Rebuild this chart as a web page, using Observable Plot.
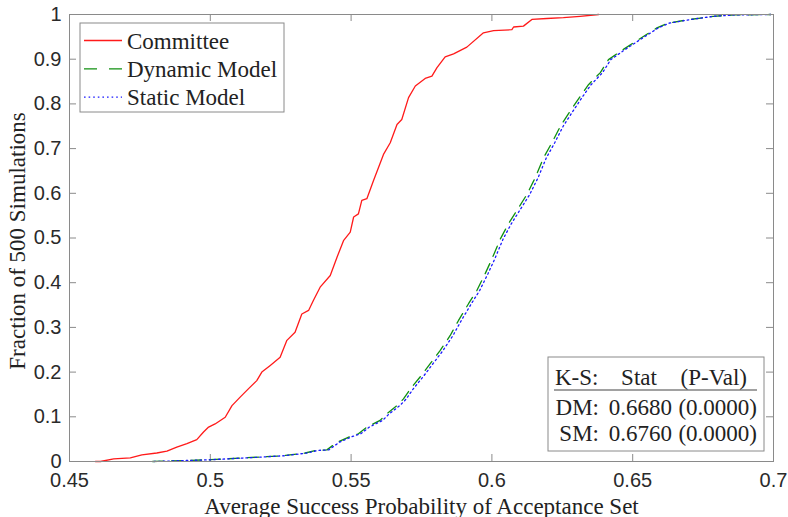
<!DOCTYPE html>
<html>
<head>
<meta charset="utf-8">
<script src="https://cdn.jsdelivr.net/npm/d3@7"></script>
<script src="https://cdn.jsdelivr.net/npm/@observablehq/plot@0.6"></script>
<style>
  html, body { margin: 0; padding: 0; background: #fff; }
  #chart svg { display: block; }
</style>
</head>
<body>
<div id="chart"></div>
<script>
// Empirical CDFs of the average success probability over 500 simulations: [x, fraction]
const committee = [
  [0.4592, 0.000], [0.4610, 0.000], [0.4657, 0.006], [0.4716, 0.008], [0.4757, 0.015],
  [0.4810, 0.019], [0.4846, 0.023], [0.4881, 0.032], [0.4917, 0.040], [0.4952, 0.049],
  [0.4976, 0.066], [0.4994, 0.077], [0.5017, 0.084], [0.5053, 0.099], [0.5077, 0.125],
  [0.5106, 0.144], [0.5136, 0.163], [0.5165, 0.181], [0.5183, 0.200], [0.5213, 0.215],
  [0.5248, 0.233], [0.5272, 0.271], [0.5301, 0.289], [0.5325, 0.330], [0.5349, 0.338],
  [0.5366, 0.360], [0.5390, 0.390], [0.5426, 0.416], [0.5450, 0.457], [0.5473, 0.494],
  [0.5497, 0.513], [0.5509, 0.547], [0.5526, 0.554], [0.5538, 0.584], [0.5556, 0.588],
  [0.5580, 0.629], [0.5615, 0.687], [0.5639, 0.713], [0.5663, 0.754], [0.5680, 0.765],
  [0.5704, 0.814], [0.5728, 0.840], [0.5763, 0.857], [0.5787, 0.862], [0.5805, 0.881],
  [0.5834, 0.905], [0.5864, 0.912], [0.5911, 0.927], [0.5970, 0.959], [0.6006, 0.964],
  [0.6071, 0.966], [0.6077, 0.972], [0.6112, 0.974], [0.6142, 0.989], [0.6195, 0.991],
  [0.6254, 0.993], [0.6313, 0.996], [0.6379, 1.000]
];

const dynamicModel = [
  [0.4795, 0.000], [0.4900, 0.002], [0.5000, 0.004], [0.5059, 0.006], [0.5177, 0.010],
  [0.5260, 0.013], [0.5337, 0.019], [0.5378, 0.025], [0.5414, 0.026], [0.5450, 0.043],
  [0.5497, 0.056], [0.5526, 0.062], [0.5556, 0.077], [0.5603, 0.092], [0.5627, 0.107],
  [0.5663, 0.125], [0.5686, 0.140], [0.5710, 0.162], [0.5745, 0.189], [0.5781, 0.219],
  [0.5816, 0.248], [0.5852, 0.282], [0.5881, 0.315], [0.5917, 0.353], [0.5947, 0.383],
  [0.5976, 0.420], [0.6000, 0.453], [0.6030, 0.498], [0.6059, 0.532], [0.6089, 0.562],
  [0.6124, 0.597], [0.6154, 0.635], [0.6183, 0.679], [0.6213, 0.713], [0.6243, 0.750],
  [0.6278, 0.784], [0.6314, 0.817], [0.6343, 0.843], [0.6385, 0.870], [0.6414, 0.899],
  [0.6467, 0.922], [0.6521, 0.944], [0.6586, 0.970], [0.6627, 0.981], [0.6704, 0.989],
  [0.6787, 0.996], [0.6858, 0.999], [0.6990, 1.000]
];

const staticModel = [
  [0.4800, 0.000], [0.4905, 0.002], [0.5004, 0.004], [0.5063, 0.006], [0.5182, 0.010],
  [0.5265, 0.013], [0.5343, 0.019], [0.5384, 0.025], [0.5421, 0.026], [0.5458, 0.043],
  [0.5505, 0.056], [0.5534, 0.062], [0.5565, 0.077], [0.5612, 0.092], [0.5636, 0.107],
  [0.5673, 0.125], [0.5696, 0.140], [0.5720, 0.162], [0.5755, 0.189], [0.5791, 0.219],
  [0.5826, 0.248], [0.5862, 0.282], [0.5891, 0.315], [0.5927, 0.353], [0.5957, 0.383],
  [0.5986, 0.420], [0.6010, 0.453], [0.6040, 0.498], [0.6069, 0.532], [0.6099, 0.562],
  [0.6134, 0.597], [0.6164, 0.635], [0.6193, 0.679], [0.6223, 0.713], [0.6253, 0.750],
  [0.6288, 0.784], [0.6323, 0.817], [0.6352, 0.843], [0.6393, 0.870], [0.6422, 0.899],
  [0.6474, 0.922], [0.6527, 0.944], [0.6591, 0.970], [0.6631, 0.981], [0.6707, 0.989],
  [0.6789, 0.996], [0.6860, 0.999], [0.6990, 1.000]
];

// Series names and styles, in drawing order
const seriesNames = ["Committee", "Dynamic Model", "Static Model"];
const seriesColors = ["#ff1a1a", "#109010", "#1a1aff"];
const seriesDash = [null, "11,8", "1.6,3"];

// Kolmogorov–Smirnov test results against the committee
const ksHeader = ["K-S:", "Stat", "(P-Val)"];
const ksRows = ["DM:", "SM:"];
const ksStat = [0.6680, 0.6760];
const ksPValue = [0.0000, 0.0000];

// Axis ticks and titles
const xTicks = [0.45, 0.5, 0.55, 0.6, 0.65, 0.7];
const yTicks = [0, 0.1, 0.2, 0.3, 0.4, 0.5, 0.6, 0.7, 0.8, 0.9, 1];
const xTitle = "Average Success Probability of Acceptance Set";
const yTitle = "Fraction of 500 Simulations";

const W = 788, H = 517;
const M = {top: 14, right: 15, bottom: 56, left: 69};
const innerW = W - M.left - M.right;
const innerH = H - M.top - M.bottom;
const serif = "'Liberation Serif', 'DejaVu Serif', serif";
const sans = "'Liberation Sans', Arial, sans-serif";
const frameGray = "#8a8a8a";
const tickLen = 7;

const seriesData = [committee, dynamicModel, staticModel];

const plot = Plot.plot({
  width: W,
  height: H,
  marginTop: M.top,
  marginRight: M.right,
  marginBottom: M.bottom,
  marginLeft: M.left,
  style: {background: "#fff", overflow: "visible"},
  x: {domain: [0.45, 0.7]},
  y: {domain: [0, 1]},
  marks: [
    // inward ticks on all four sides
    Plot.tickX(xTicks, {x: d => d, insetTop: innerH - tickLen, stroke: frameGray}),
    Plot.tickX(xTicks, {x: d => d, insetBottom: innerH - tickLen, stroke: frameGray}),
    Plot.tickY(yTicks, {y: d => d, insetRight: innerW - tickLen, stroke: frameGray}),
    Plot.tickY(yTicks, {y: d => d, insetLeft: innerW - tickLen, stroke: frameGray}),
    Plot.axisX({ticks: xTicks, tickSize: 0, tickPadding: 11, tickFormat: d => String(d),
      fontSize: 20, fontFamily: sans, color: "#2a2a2a", label: null}),
    Plot.axisY({ticks: yTicks, tickSize: 0, tickPadding: 8, tickFormat: d => String(d),
      fontSize: 20, fontFamily: sans, color: "#2a2a2a", label: null}),
    ...seriesData.map((data, i) => Plot.line(data, {
      x: d => d[0], y: d => d[1],
      stroke: seriesColors[i], strokeWidth: 1.3,
      strokeDasharray: seriesDash[i] ?? undefined
    })),
    Plot.frame({stroke: frameGray, strokeWidth: 1}),
    Plot.text([xTitle], {text: d => d, frameAnchor: "bottom", dy: 45, lineAnchor: "middle",
      textAnchor: "middle", fontSize: 23, fontFamily: serif, fill: "#222"}),
    Plot.text([yTitle], {text: d => d, frameAnchor: "left", rotate: -90, dx: -52, dy: 3,
      textAnchor: "middle", lineAnchor: "middle", fontSize: 23, fontFamily: serif, fill: "#222"})
  ]
});

document.getElementById("chart").appendChild(plot);

const svg = d3.select(plot);

// Legend box (upper left)
const legend = svg.append("g").attr("transform", "translate(80,23)");
legend.append("rect").attr("width", 204).attr("height", 89)
  .attr("fill", "#fff").attr("stroke", frameGray).attr("stroke-width", 1);
seriesNames.forEach((name, i) => {
  const cy = 17.5 + i * 28.3;
  legend.append("line").attr("x1", 4).attr("x2", 42).attr("y1", cy).attr("y2", cy)
    .attr("stroke", seriesColors[i]).attr("stroke-width", 1.3)
    .attr("stroke-dasharray", seriesDash[i] ? (i === 1 ? "13,12" : seriesDash[i]) : null);
  legend.append("text").attr("x", 47).attr("y", cy).attr("dy", "0.35em")
    .attr("text-anchor", "start")
    .attr("font-family", serif).attr("font-size", 23).attr("fill", "#222").text(name);
});

// K-S statistics table (lower right)
const table = svg.append("g").attr("transform", "translate(548,357)");
table.append("rect").attr("width", 216).attr("height", 94)
  .attr("fill", "#fff").attr("stroke", frameGray).attr("stroke-width", 1);
const cell = (x, y, anchor, txt) => table.append("text")
  .attr("x", x).attr("y", y).attr("dy", "0.35em").attr("text-anchor", anchor)
  .attr("font-family", serif).attr("font-size", 23).attr("fill", "#222").text(txt);
cell(7, 20, "start", ksHeader[0]);
cell(91, 20, "middle", ksHeader[1]);
cell(199, 20, "end", ksHeader[2]);
table.append("line").attr("x1", 6).attr("x2", 209).attr("y1", 33).attr("y2", 33)
  .attr("stroke", "#444").attr("stroke-width", 1.2);
ksRows.forEach((r, i) => {
  const y = 49.5 + i * 26.5;
  cell(51, y, "end", r);
  cell(124, y, "end", ksStat[i].toFixed(4));
  cell(209, y, "end", `(${ksPValue[i].toFixed(4)})`);
});
</script>
</body>
</html>
